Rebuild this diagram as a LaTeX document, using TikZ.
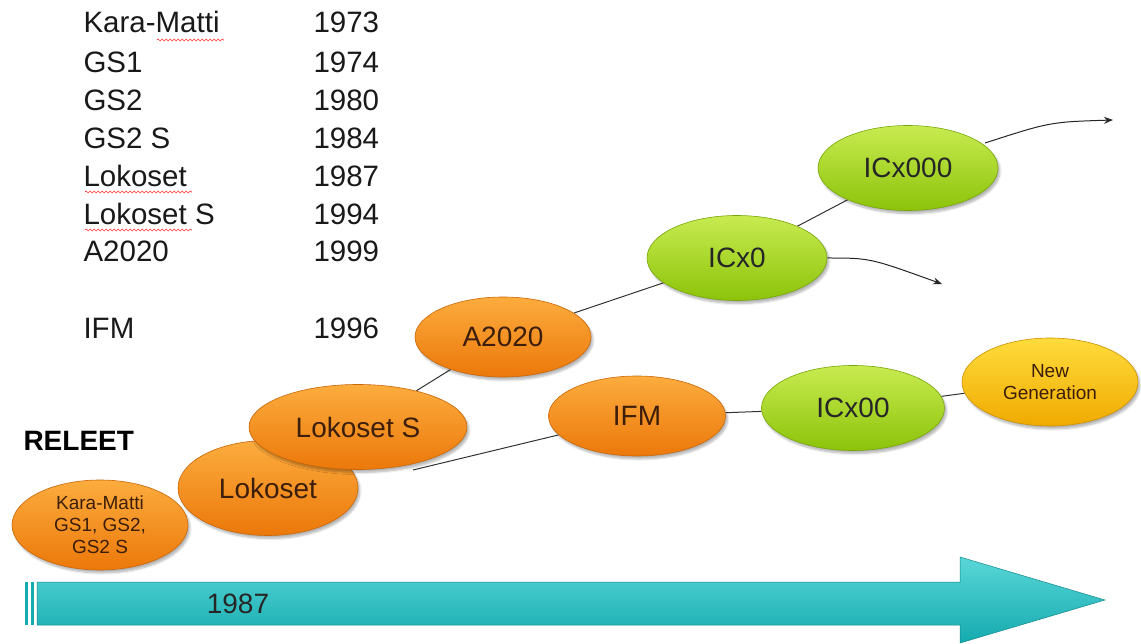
\documentclass[tikz,border=0pt]{standalone}
\usepackage{fontspec}
\setmainfont{Liberation Sans}
\usetikzlibrary{shapes.geometric,shadows.blur,arrows.meta,decorations.pathmorphing}
\pgfdeclarelayer{background}
\pgfsetlayers{background,main}
\definecolor{orA}{RGB}{252,172,62}
\definecolor{orB}{RGB}{236,120,10}
\definecolor{grA}{RGB}{200,235,80}
\definecolor{grB}{RGB}{140,195,10}
\definecolor{yeA}{RGB}{255,220,60}
\definecolor{yeB}{RGB}{240,170,0}
\definecolor{tlA}{RGB}{90,215,215}
\definecolor{tlB}{RGB}{20,170,175}
\definecolor{txt}{RGB}{60,30,10}
\tikzset{
  oval/.style 2 args={ellipse, minimum width=#1, minimum height=#2, inner sep=0pt,
     blur shadow={shadow xshift=2pt, shadow yshift=-3pt, shadow blur steps=6, shadow opacity=30}},
  orangeoval/.style={draw=orB!85!black, line width=0.6pt, top color=orA, bottom color=orB, text=txt, font=\fontsize{28}{30}\selectfont},
  greenoval/.style={draw=grB!85!black, line width=0.6pt, top color=grA, bottom color=grB, text=black!85, font=\fontsize{28}{30}\selectfont},
  yellowoval/.style={draw=yeB!85!black, line width=0.6pt, top color=yeA, bottom color=yeB, text=txt, font=\fontsize{19}{22}\selectfont, align=center},
  smalltext/.style={font=\fontsize{19}{22}\selectfont, align=center},
  listtext/.style={anchor=west, font=\fontsize{29.5}{31}\selectfont, text=black!90},
  link/.style={draw=black!80, line width=1pt},
  arrowlink/.style={draw=black!85, line width=1pt, -{Stealth[length=9pt,width=7pt]}},
  spell/.style={draw=red!80, line width=0.6pt, decorate, decoration={snake, amplitude=1pt, segment length=4pt}}
}
\begin{document}
\begin{tikzpicture}[x=1pt,y=-1pt]
\useasboundingbox (0,0) rectangle (1141,644);
% list
\foreach \n/\y/\a/\b in {l1/22/Kara-Matti/1973, l2/62/GS1/1974, l3/100/GS2/1980, l4/138/GS2 S/1984, l5/176/Lokoset/1987, l6/214/Lokoset S/1994, l7/251/A2020/1999, l8/328/IFM/1996}{
  \node[listtext] (\n a) at (80,\y) {\a};
  \node[listtext] (\n b) at (310,\y) {\b};
}
\draw[spell] (157,40) -- (224,40);
\draw[spell] (85,192) -- (192,192);
\draw[spell] (85,230) -- (192,230);
% timeline arrow
\shade[top color=tlA, bottom color=tlB, draw=tlB!80!black, line width=0.5pt]
  (37,582) -- (960,582) -- (960,557) -- (1105,600) -- (960,643) -- (960,625) -- (37,625) -- cycle;
\fill[tlB] (25,582) rectangle (28,625);
\fill[tlB] (31,582) rectangle (34,625);
\node[font=\fontsize{28}{30}\selectfont, text=black!85] (yr) at (238,604) {1987};
\node[font=\bfseries\fontsize{28}{30}\selectfont, anchor=west] (rel) at (20,441) {RELEET};
% ovals
\node[orangeoval, oval={176pt}{90pt}, smalltext, text=txt] (km) at (100,525) {Kara-Matti\\GS1, GS2,\\GS2 S};
\node[orangeoval, oval={180pt}{95pt}] (lok) at (268,488) {Lokoset};
\node[orangeoval, oval={218pt}{85pt}] (loks) at (358,427) {Lokoset S};
\node[orangeoval, oval={176pt}{80pt}] (a20) at (503,337) {A2020};
\node[greenoval, oval={180pt}{85pt}] (icx0) at (737,258) {ICx0};
\node[greenoval, oval={180pt}{85pt}] (icx000) at (908,168) {ICx000};
\node[orangeoval, oval={177pt}{80pt}] (ifm) at (637,416) {IFM};
\node[greenoval, oval={183pt}{85pt}] (icx00) at (853,408) {ICx00};
\node[yellowoval, oval={176pt}{88pt}] (ng) at (1050,382) {New\\Generation};
% connectors
\coordinate (ifmstart) at (413,470);
\coordinate (e1) at (942,284);
\coordinate (e2) at (1113,120);
\coordinate (s2) at (985,143);
\begin{pgfonlayer}{background}
\draw[link] (loks) -- (a20);
\draw[link] (a20) -- (icx0);
\draw[link] (icx0) -- (icx000);
\draw[link] (ifmstart) -- (ifm);
\draw[link] (ifm) -- (icx00);
\draw[link] (icx00) -- (ng);
\end{pgfonlayer}
\draw[arrowlink] (icx0.east) .. controls (870,258) .. (e1);
\draw[arrowlink] (s2) .. controls (1050,122) .. (e2);
\end{tikzpicture}
\end{document}
